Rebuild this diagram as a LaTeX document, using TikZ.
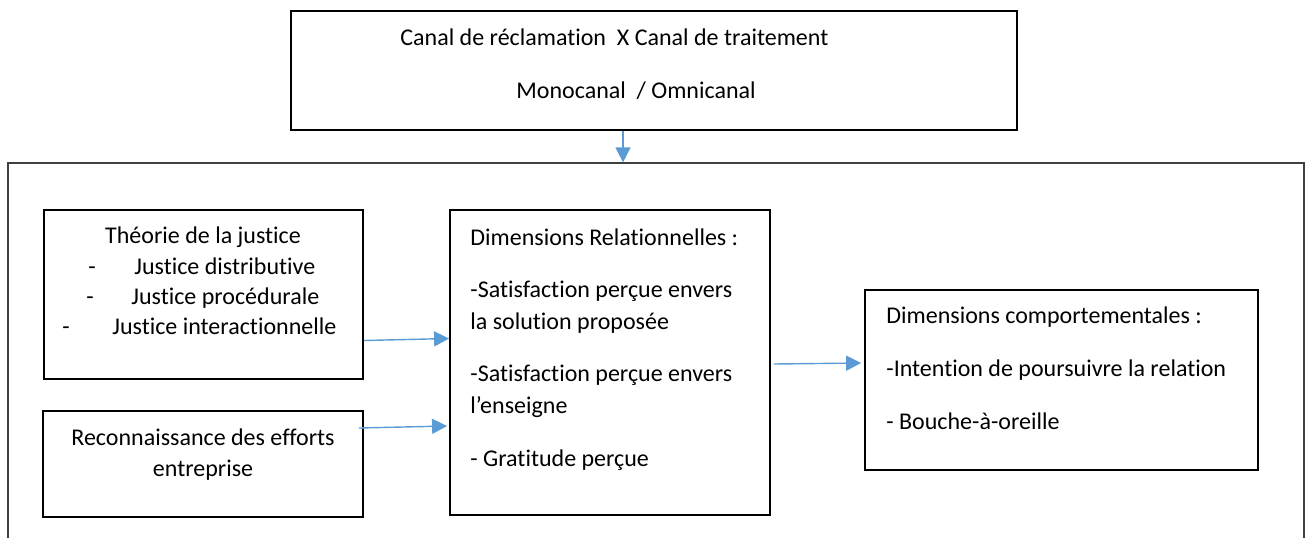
\documentclass[tikz,border=0pt]{standalone}
\usepackage{fontspec}
\setmainfont{Carlito}[Ligatures=NoCommon]
\usetikzlibrary{arrows.meta, positioning, calc, fit}

\definecolor{linkblue}{RGB}{91,155,213}

\begin{document}
\begin{tikzpicture}[
  x=0.5pt, y=-0.5pt,
  box/.style={draw, line width=0.9pt, inner sep=0pt},
  frame/.style={draw=black!75, line width=0.6pt, inner sep=0pt},
  txt/.style={inner sep=0pt, font=\fontsize{12}{16}\selectfont},
  link/.style={-{Triangle[length=7.5pt, width=7.5pt]}, draw=linkblue, fill=linkblue, line width=0.7pt}
]
\useasboundingbox (0,0) rectangle (1309,537);

% boxes
\node[box, fit={(291,11) (1017,130)}] (canal) {};
\node[frame, fit={(8,163) (1304,560)}] (cadre) {};
\node[box, fit={(44,210) (363,379)}] (justice) {};
\node[box, fit={(43,411) (363,517)}] (effort) {};
\node[box, fit={(450,210) (770,515)}] (relation) {};
\node[box, fit={(865,290) (1258,470)}] (comport) {};

% texts
\node[txt, anchor=base west] (canalA) at (400,45) {Canal de réclamation\ \ X Canal de traitement};
\node[txt, anchor=base west] (canalB) at (516,98) {Monocanal\ \ / Omnicanal};

\node[txt, anchor=base] (justiceT) at (203,243) {Théorie de la justice};
\node[txt, anchor=base west] (dashA) at (88,274) {-};
\node[txt, anchor=base west] (justiceA) at (134,274) {Justice distributive};
\node[txt, anchor=base west] (dashB) at (86,304) {-};
\node[txt, anchor=base west] (justiceB) at (131,304) {Justice procédurale};
\node[txt, anchor=base west] (dashC) at (62,334) {-};
\node[txt, anchor=base west] (justiceC) at (112,334) {Justice interactionnelle};

\node[txt, anchor=base] (effortA) at (203,445) {Reconnaissance des efforts};
\node[txt, anchor=base] (effortB) at (203,476) {entreprise};

\node[txt, anchor=base west] (relationT) at (470,245) {Dimensions Relationnelles :};
\node[txt, anchor=base west] (relationA) at (470,297) {-Satisfaction perçue envers};
\node[txt, anchor=base west] (relationB) at (470,329) {la solution proposée};
\node[txt, anchor=base west] (relationC) at (470,381) {-Satisfaction perçue envers};
\node[txt, anchor=base west] (relationD) at (470,413) {l’enseigne};
\node[txt, anchor=base west] (relationE) at (470,466) {- Gratitude perçue};

\node[txt, anchor=base west] (comportT) at (886,323) {Dimensions comportementales :};
\node[txt, anchor=base west] (comportA) at (886,376) {-Intention de poursuivre la relation};
\node[txt, anchor=base west] (comportB) at (886,429) {- Bouche-à-oreille};

% arrows
\draw[link] ($(canal.south)+(-31,0)$) -- ($(canal.south |- cadre.north)+(-31,0)$);
\draw[link] ($(justice.east)+(0,46)$) -- ($(relation.west)+(0,-24)$);
\draw[link] ($(effort.east)+(-5,-36)$) -- ($(relation.west)+(-2,63.5)$);
\draw[link] ($(relation.east)+(3,1.5)$) -- ($(comport.west)+(-3,-17)$);
\end{tikzpicture}
\end{document}
